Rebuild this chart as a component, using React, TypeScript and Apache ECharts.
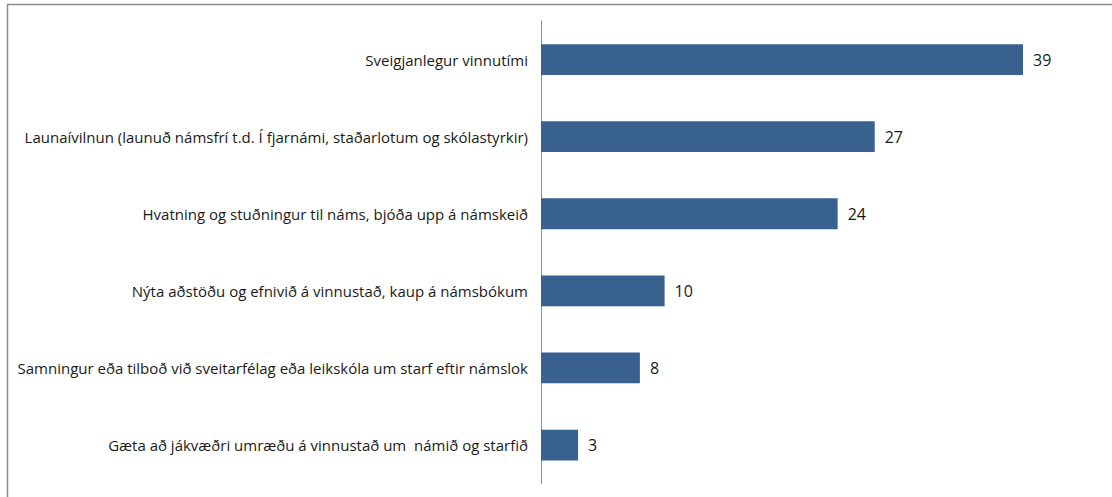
import React, { useEffect, useRef } from "react";
import * as echarts from "echarts";

const categories = [
  "Sveigjanlegur vinnutími",
  "Launaívilnun (launuð námsfrí t.d. Í fjarnámi, staðarlotum og skólastyrkir)",
  "Hvatning og stuðningur til náms, bjóða upp á námskeið",
  "Nýta aðstöðu og efnivið á vinnustað, kaup á námsbókum",
  "Samningur eða tilboð við sveitarfélag eða leikskóla um starf eftir námslok",
  "Gæta að jákvæðri umræðu á vinnustað um  námið og starfið",
];
const values = [39, 27, 24, 10, 8, 3];

export default function App() {
  const ref = useRef<HTMLDivElement>(null);
  useEffect(() => {
    if (!ref.current) return;
    const chart = echarts.init(ref.current, null, { renderer: "svg" });
    const unit = 12.36;
    const xMax = 45;
    chart.setOption({
      animation: false,
      backgroundColor: "#ffffff",
      textStyle: { fontFamily: "Open Sans" },
      graphic: [
        {
          type: "rect",
          shape: { x: 7.5, y: 4.5, width: 1200, height: 600 },
          style: { fill: "none", stroke: "#8c8c8c", lineWidth: 1.5 },
          silent: true,
        },
      ],
      grid: { left: 541, top: 21, width: unit * xMax, height: 462.6 },
      xAxis: {
        type: "value",
        min: 0,
        max: xMax,
        show: false,
      },
      yAxis: {
        type: "category",
        inverse: true,
        data: categories,
        axisLine: { show: true, lineStyle: { color: "#8c8c8c", width: 1 } },
        axisTick: { show: false },
        axisLabel: {
          color: "#1a1a1a",
          fontSize: 15,
          fontFamily: "Open Sans",
          margin: 13,
        },
      },
      series: [
        {
          type: "bar",
          data: values,
          barCategoryGap: "60%",
          itemStyle: { color: "#386190" },
          label: {
            show: true,
            position: "right",
            distance: 10,
            color: "#1a1a1a",
            fontSize: 16,
            fontFamily: "Open Sans",
          },
        },
      ],
    });
    return () => chart.dispose();
  }, []);
  return (
    <div
      ref={ref}
      style={{ position: "absolute", left: 0, top: 0, width: 1112, height: 497 }}
    />
  );
}
